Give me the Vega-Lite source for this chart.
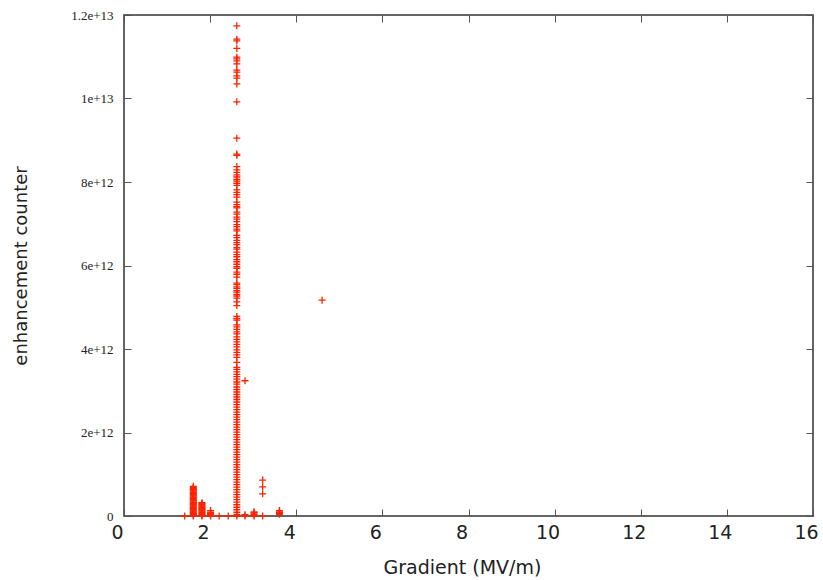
{
  "$schema": "https://vega.github.io/schema/vega-lite/v6.json",
  "width": 689,
  "height": 501,
  "autosize": "none",
  "padding": {"left": 124, "top": 15, "right": 10, "bottom": 64},
  "background": "white",
  "config": {"view": {"stroke": "#333", "strokeWidth": 1.5}},
  "data": {"values": [
    {"gradient": 2.62, "counter": 11.74e12}, {"gradient": 2.62, "counter": 11.42e12}, {"gradient": 2.62, "counter": 11.38e12}, {"gradient": 2.62, "counter": 11.2e12},
    {"gradient": 2.62, "counter": 10.99e12}, {"gradient": 2.62, "counter": 10.95e12}, {"gradient": 2.62, "counter": 10.9e12}, {"gradient": 2.62, "counter": 10.83e12},
    {"gradient": 2.62, "counter": 10.68e12}, {"gradient": 2.62, "counter": 10.63e12}, {"gradient": 2.62, "counter": 10.54e12}, {"gradient": 2.62, "counter": 10.49e12},
    {"gradient": 2.62, "counter": 10.35e12}, {"gradient": 2.62, "counter": 9.92e12}, {"gradient": 2.62, "counter": 9.05e12}, {"gradient": 2.62, "counter": 8.67e12},
    {"gradient": 2.62, "counter": 8.64e12}, {"gradient": 2.62, "counter": 8.37e12}, {"gradient": 2.62, "counter": 8.29e12}, {"gradient": 2.62, "counter": 8.23e12},
    {"gradient": 2.62, "counter": 8.17e12}, {"gradient": 2.62, "counter": 8.12e12}, {"gradient": 2.62, "counter": 8.06e12}, {"gradient": 2.62, "counter": 8.02e12},
    {"gradient": 2.62, "counter": 7.97e12}, {"gradient": 2.62, "counter": 7.92e12}, {"gradient": 2.62, "counter": 7.81e12}, {"gradient": 2.62, "counter": 7.75e12},
    {"gradient": 2.62, "counter": 7.7e12}, {"gradient": 2.62, "counter": 7.64e12}, {"gradient": 2.62, "counter": 7.52e12}, {"gradient": 2.62, "counter": 7.46e12},
    {"gradient": 2.62, "counter": 7.41e12}, {"gradient": 2.62, "counter": 7.38e12}, {"gradient": 2.62, "counter": 7.28e12}, {"gradient": 2.62, "counter": 7.23e12},
    {"gradient": 2.62, "counter": 7.16e12}, {"gradient": 2.62, "counter": 7.11e12}, {"gradient": 2.62, "counter": 7.05e12}, {"gradient": 2.62, "counter": 6.98e12},
    {"gradient": 2.62, "counter": 6.93e12}, {"gradient": 2.62, "counter": 6.87e12}, {"gradient": 2.62, "counter": 6.83e12}, {"gradient": 2.62, "counter": 6.72e12},
    {"gradient": 2.62, "counter": 6.67e12}, {"gradient": 2.62, "counter": 6.6e12}, {"gradient": 2.62, "counter": 6.55e12}, {"gradient": 2.62, "counter": 6.5e12},
    {"gradient": 2.62, "counter": 6.43e12}, {"gradient": 2.62, "counter": 6.39e12}, {"gradient": 2.62, "counter": 6.32e12}, {"gradient": 2.62, "counter": 6.26e12},
    {"gradient": 2.62, "counter": 6.21e12}, {"gradient": 2.62, "counter": 6.14e12}, {"gradient": 2.62, "counter": 6.09e12}, {"gradient": 2.62, "counter": 6.03e12},
    {"gradient": 2.62, "counter": 5.97e12}, {"gradient": 2.62, "counter": 5.93e12}, {"gradient": 2.62, "counter": 5.84e12}, {"gradient": 2.62, "counter": 5.79e12},
    {"gradient": 2.62, "counter": 5.72e12}, {"gradient": 2.62, "counter": 5.58e12}, {"gradient": 2.62, "counter": 5.54e12}, {"gradient": 2.62, "counter": 5.49e12},
    {"gradient": 2.62, "counter": 5.45e12}, {"gradient": 2.62, "counter": 5.4e12}, {"gradient": 2.62, "counter": 5.36e12}, {"gradient": 2.62, "counter": 5.31e12},
    {"gradient": 2.62, "counter": 5.27e12}, {"gradient": 2.62, "counter": 5.22e12}, {"gradient": 2.62, "counter": 5.13e12}, {"gradient": 2.62, "counter": 5.04e12},
    {"gradient": 2.62, "counter": 4.78e12}, {"gradient": 2.62, "counter": 4.73e12}, {"gradient": 2.62, "counter": 4.69e12}, {"gradient": 2.62, "counter": 4.58e12},
    {"gradient": 2.62, "counter": 4.53e12}, {"gradient": 2.62, "counter": 4.47e12}, {"gradient": 2.62, "counter": 4.41e12}, {"gradient": 2.62, "counter": 4.36e12},
    {"gradient": 2.62, "counter": 4.29e12}, {"gradient": 2.62, "counter": 4.23e12}, {"gradient": 2.62, "counter": 4.17e12}, {"gradient": 2.62, "counter": 4.11e12},
    {"gradient": 2.62, "counter": 4.05e12}, {"gradient": 2.62, "counter": 3.98e12}, {"gradient": 2.62, "counter": 3.92e12}, {"gradient": 2.62, "counter": 3.86e12},
    {"gradient": 2.62, "counter": 3.8e12}, {"gradient": 2.62, "counter": 3.68e12}, {"gradient": 2.62, "counter": 3.56e12}, {"gradient": 2.62, "counter": 3.51e12},
    {"gradient": 2.62, "counter": 3.45e12}, {"gradient": 2.62, "counter": 3.39e12}, {"gradient": 2.62, "counter": 3.34e12}, {"gradient": 2.62, "counter": 3.28e12},
    {"gradient": 2.62, "counter": 3.21e12}, {"gradient": 2.62, "counter": 3.16e12}, {"gradient": 2.62, "counter": 3.09e12}, {"gradient": 2.62, "counter": 3.03e12},
    {"gradient": 2.62, "counter": 2.97e12}, {"gradient": 2.62, "counter": 2.91e12}, {"gradient": 2.62, "counter": 2.85e12}, {"gradient": 2.62, "counter": 2.79e12},
    {"gradient": 2.62, "counter": 2.73e12}, {"gradient": 2.62, "counter": 2.67e12}, {"gradient": 2.62, "counter": 2.61e12}, {"gradient": 2.62, "counter": 2.55e12},
    {"gradient": 2.62, "counter": 2.49e12}, {"gradient": 2.62, "counter": 2.43e12}, {"gradient": 2.62, "counter": 2.37e12}, {"gradient": 2.62, "counter": 2.31e12},
    {"gradient": 2.62, "counter": 2.25e12}, {"gradient": 2.62, "counter": 2.19e12}, {"gradient": 2.62, "counter": 2.13e12}, {"gradient": 2.62, "counter": 2.07e12},
    {"gradient": 2.62, "counter": 2.01e12}, {"gradient": 2.62, "counter": 1.95e12}, {"gradient": 2.62, "counter": 1.89e12}, {"gradient": 2.62, "counter": 1.83e12},
    {"gradient": 2.62, "counter": 1.77e12}, {"gradient": 2.62, "counter": 1.71e12}, {"gradient": 2.62, "counter": 1.65e12}, {"gradient": 2.62, "counter": 1.59e12},
    {"gradient": 2.62, "counter": 1.53e12}, {"gradient": 2.62, "counter": 1.47e12}, {"gradient": 2.62, "counter": 1.41e12}, {"gradient": 2.62, "counter": 1.35e12},
    {"gradient": 2.62, "counter": 1.29e12}, {"gradient": 2.62, "counter": 1.23e12}, {"gradient": 2.62, "counter": 1.17e12}, {"gradient": 2.62, "counter": 1.11e12},
    {"gradient": 2.62, "counter": 1.05e12}, {"gradient": 2.62, "counter": 0.99e12}, {"gradient": 2.62, "counter": 0.93e12}, {"gradient": 2.62, "counter": 0.87e12},
    {"gradient": 2.62, "counter": 0.81e12}, {"gradient": 2.62, "counter": 0.75e12}, {"gradient": 2.62, "counter": 0.69e12}, {"gradient": 2.62, "counter": 0.63e12},
    {"gradient": 2.62, "counter": 0.57e12}, {"gradient": 2.62, "counter": 0.51e12}, {"gradient": 2.62, "counter": 0.45e12}, {"gradient": 2.62, "counter": 0.39e12},
    {"gradient": 2.62, "counter": 0.33e12}, {"gradient": 2.62, "counter": 0.27e12}, {"gradient": 2.62, "counter": 0.21e12}, {"gradient": 2.62, "counter": 0.15e12},
    {"gradient": 2.62, "counter": 0.09e12}, {"gradient": 2.62, "counter": 0.04e12}, {"gradient": 2.62, "counter": 0},
    {"gradient": 1.61, "counter": 0}, {"gradient": 1.61, "counter": 0.02e12}, {"gradient": 1.61, "counter": 0.04e12}, {"gradient": 1.61, "counter": 0.06e12}, {"gradient": 1.61, "counter": 0.08e12}, {"gradient": 1.61, "counter": 0.1e12}, {"gradient": 1.61, "counter": 0.12e12},
    {"gradient": 1.61, "counter": 0.14e12}, {"gradient": 1.61, "counter": 0.16e12}, {"gradient": 1.61, "counter": 0.18e12}, {"gradient": 1.61, "counter": 0.2e12}, {"gradient": 1.61, "counter": 0.22e12}, {"gradient": 1.61, "counter": 0.24e12}, {"gradient": 1.61, "counter": 0.26e12}, {"gradient": 1.61, "counter": 0.28e12},
    {"gradient": 1.61, "counter": 0.3e12}, {"gradient": 1.61, "counter": 0.32e12}, {"gradient": 1.61, "counter": 0.34e12}, {"gradient": 1.61, "counter": 0.36e12}, {"gradient": 1.61, "counter": 0.38e12}, {"gradient": 1.61, "counter": 0.4e12}, {"gradient": 1.61, "counter": 0.42e12}, {"gradient": 1.61, "counter": 0.44e12},
    {"gradient": 1.61, "counter": 0.46e12}, {"gradient": 1.61, "counter": 0.48e12}, {"gradient": 1.61, "counter": 0.5e12}, {"gradient": 1.61, "counter": 0.52e12}, {"gradient": 1.61, "counter": 0.54e12}, {"gradient": 1.61, "counter": 0.56e12}, {"gradient": 1.61, "counter": 0.58e12}, {"gradient": 1.61, "counter": 0.6e12},
    {"gradient": 1.61, "counter": 0.62e12}, {"gradient": 1.61, "counter": 0.64e12}, {"gradient": 1.61, "counter": 0.66e12}, {"gradient": 1.61, "counter": 0.68e12}, {"gradient": 1.61, "counter": 0.71e12},
    {"gradient": 1.81, "counter": 0}, {"gradient": 1.81, "counter": 0.02e12}, {"gradient": 1.81, "counter": 0.04e12}, {"gradient": 1.81, "counter": 0.06e12}, {"gradient": 1.81, "counter": 0.08e12}, {"gradient": 1.81, "counter": 0.1e12}, {"gradient": 1.81, "counter": 0.12e12},
    {"gradient": 1.81, "counter": 0.14e12}, {"gradient": 1.81, "counter": 0.16e12}, {"gradient": 1.81, "counter": 0.18e12}, {"gradient": 1.81, "counter": 0.2e12}, {"gradient": 1.81, "counter": 0.22e12}, {"gradient": 1.81, "counter": 0.24e12}, {"gradient": 1.81, "counter": 0.26e12}, {"gradient": 1.81, "counter": 0.28e12},
    {"gradient": 1.81, "counter": 0.3e12}, {"gradient": 1.81, "counter": 0.32e12},
    {"gradient": 2.01, "counter": 0}, {"gradient": 2.01, "counter": 0.03e12}, {"gradient": 2.01, "counter": 0.05e12}, {"gradient": 2.01, "counter": 0.07e12}, {"gradient": 2.01, "counter": 0.09e12}, {"gradient": 2.01, "counter": 0.13e12},
    {"gradient": 1.41, "counter": 0},
    {"gradient": 2.21, "counter": 0},
    {"gradient": 2.42, "counter": 0},
    {"gradient": 2.81, "counter": 0}, {"gradient": 2.81, "counter": 0.03e12}, {"gradient": 2.81, "counter": 3.24e12},
    {"gradient": 3.02, "counter": 0}, {"gradient": 3.02, "counter": 0.03e12}, {"gradient": 3.02, "counter": 0.05e12}, {"gradient": 3.02, "counter": 0.08e12}, {"gradient": 3.02, "counter": 0.1e12},
    {"gradient": 3.22, "counter": 0}, {"gradient": 3.22, "counter": 0.53e12}, {"gradient": 3.22, "counter": 0.7e12}, {"gradient": 3.22, "counter": 0.86e12},
    {"gradient": 3.61, "counter": 0.04e12}, {"gradient": 3.61, "counter": 0.06e12}, {"gradient": 3.61, "counter": 0.08e12}, {"gradient": 3.61, "counter": 0.1e12}, {"gradient": 3.61, "counter": 0.13e12},
    {"gradient": 4.6, "counter": 5.17e12}
  ]},
  "layer": [
    {
      "mark": {"type": "point", "shape": "M-1,0H1M0,-1V1", "filled": false, "fill": null, "stroke": "#ff2200", "strokeWidth": 1.3, "size": 49, "opacity": 1},
      "encoding": {
        "x": {"field": "gradient", "type": "quantitative",
          "scale": {"domain": [0, 16], "nice": false, "zero": false},
          "axis": {"orient": "bottom", "values": [0, 2, 4, 6, 8, 10, 12, 14, 16], "format": "d", "grid": false, "domain": false,
            "tickSize": -7, "tickColor": "#555", "tickWidth": 1, "labelFlush": false, "labelOverlap": false,
            "labelFont": "DejaVu Sans", "labelFontSize": 19, "labelColor": "#222", "labelOffset": -7, "labelPadding": 14,
            "title": "Gradient (MV/m)", "titleFont": "DejaVu Sans", "titleFontSize": 19, "titleFontWeight": "normal", "titleColor": "#222", "titlePadding": 16, "titleX": 338}},
        "y": {"field": "counter", "type": "quantitative",
          "scale": {"domain": [0, 1.2e13], "nice": false},
          "axis": {"orient": "left", "values": [0, 2e12, 4e12, 6e12, 8e12, 1e13, 1.2e13], "labelExpr": "datum.value == 0 ? '0' : format(datum.value, '~e')",
            "grid": false, "domain": false, "tickSize": -7, "tickColor": "#555", "tickWidth": 1, "labelFlush": false, "labelOverlap": false,
            "labelFont": "Liberation Serif", "labelFontSize": 13, "labelColor": "#222", "labelPadding": 18,
            "title": "enhancement counter", "titleFont": "DejaVu Sans", "titleFontSize": 18, "titleFontWeight": "normal", "titleColor": "#222", "titlePadding": 40}}
      }
    },
    {
      "mark": {"type": "point", "opacity": 0},
      "encoding": {
        "x": {"field": "gradient", "type": "quantitative",
          "scale": {"domain": [0, 16], "nice": false, "zero": false},
          "axis": {"orient": "top", "values": [0, 2, 4, 6, 8, 10, 12, 14, 16], "labels": false, "title": null, "grid": false, "domain": false,
            "tickSize": -7, "tickColor": "#555", "tickWidth": 1}},
        "y": {"field": "counter", "type": "quantitative",
          "scale": {"domain": [0, 1.2e13], "nice": false},
          "axis": {"orient": "right", "values": [0, 2e12, 4e12, 6e12, 8e12, 1e13, 1.2e13], "labels": false, "title": null, "grid": false, "domain": false,
            "tickSize": -7, "tickColor": "#555", "tickWidth": 1}}
      }
    }
  ],
  "resolve": {"axis": {"x": "independent", "y": "independent"}}
}
